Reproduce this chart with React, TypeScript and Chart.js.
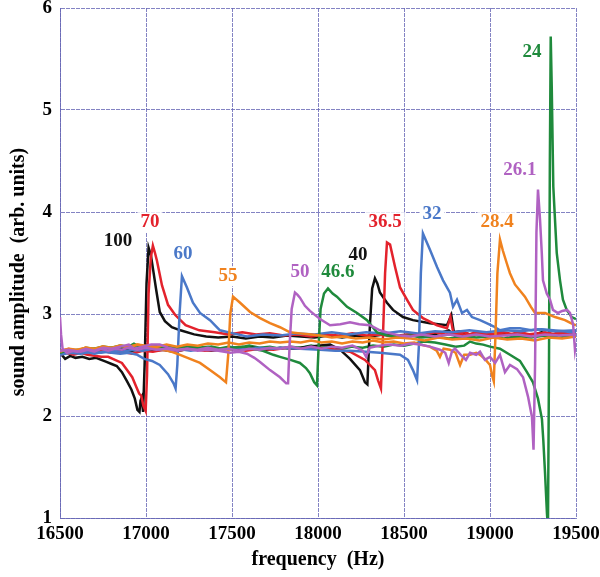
import React, { useEffect, useRef } from 'react';
import { Chart, registerables } from 'chart.js';

Chart.register(...registerables);

// ---- Data: [frequency (Hz), amplitude (arb. units)] ----
const b100: [number, number][] = [
  [16500, 2.62], [16530, 2.56], [16560, 2.59], [16590, 2.57], [16630, 2.58], [16670, 2.56], [16710, 2.57], [16740, 2.55],
  [16770, 2.53], [16800, 2.51], [16830, 2.49], [16860, 2.43], [16890, 2.34], [16915, 2.26], [16935, 2.17], [16950, 2.06],
  [16962, 2.04], [16968, 2.15], [16975, 2.18], [16983, 2.04], [16992, 2.5], [17003, 3.3], [17015, 3.65], [17028, 3.58],
  [17040, 3.45], [17058, 3.25], [17080, 3.02], [17110, 2.93], [17150, 2.87], [17200, 2.84], [17280, 2.80], [17350, 2.78],
  [17420, 2.77], [17500, 2.78], [17580, 2.76], [17660, 2.78], [17740, 2.77], [17820, 2.79], [17900, 2.78], [17980, 2.77],
  [18060, 2.79], [18140, 2.77], [18220, 2.79], [18300, 2.78], [18380, 2.80], [18460, 2.79], [18540, 2.80], [18620, 2.78],
  [18700, 2.81], [18760, 2.84], [18800, 2.78], [18850, 2.81], [18900, 2.79], [18960, 2.82], [19020, 2.79], [19080, 2.81],
  [19140, 2.78], [19200, 2.80], [19260, 2.79], [19320, 2.81], [19380, 2.80], [19440, 2.82], [19500, 2.80],
];

const b40: [number, number][] = [
  [16500, 2.64], [16560, 2.62], [16620, 2.64], [16680, 2.63], [16740, 2.65], [16800, 2.63], [16860, 2.65], [16920, 2.64],
  [16980, 2.66], [17040, 2.64], [17100, 2.65], [17160, 2.63], [17220, 2.65], [17300, 2.66], [17380, 2.64], [17460, 2.66],
  [17540, 2.65], [17620, 2.67], [17700, 2.65], [17780, 2.67], [17860, 2.66], [17940, 2.68], [18000, 2.69], [18070, 2.70],
  [18128, 2.65], [18186, 2.56], [18244, 2.45], [18273, 2.33], [18287, 2.31], [18302, 2.9], [18315, 3.25], [18331, 3.35],
  [18345, 3.30], [18360, 3.21], [18401, 3.11], [18436, 3.04], [18494, 2.97], [18552, 2.94], [18651, 2.91], [18750, 2.89],
  [18775, 2.99], [18790, 2.82], [18830, 2.83], [18880, 2.80], [18940, 2.82], [19000, 2.79], [19060, 2.82], [19120, 2.80],
  [19180, 2.81], [19240, 2.79], [19300, 2.82], [19360, 2.80], [19420, 2.81], [19470, 2.83], [19500, 2.81],
];

const r70: [number, number][] = [
  [16500, 2.60], [16540, 2.62], [16580, 2.60], [16620, 2.62], [16660, 2.60], [16700, 2.59], [16740, 2.58], [16780, 2.58],
  [16820, 2.55], [16860, 2.52], [16890, 2.45], [16920, 2.38], [16945, 2.28], [16960, 2.22], [16972, 2.20], [16985, 2.10],
  [16998, 2.05], [17006, 2.4], [17015, 3.2], [17028, 3.55], [17040, 3.67], [17052, 3.60], [17064, 3.52], [17093, 3.28],
  [17128, 3.09], [17170, 2.99], [17230, 2.89], [17310, 2.84], [17400, 2.82], [17480, 2.80], [17560, 2.82], [17640, 2.80],
  [17720, 2.81], [17800, 2.79], [17880, 2.80], [17960, 2.78], [18040, 2.80], [18120, 2.79], [18200, 2.81], [18280, 2.79],
  [18360, 2.80], [18440, 2.78], [18520, 2.80], [18600, 2.79], [18680, 2.82], [18740, 2.80], [18800, 2.81], [18860, 2.79],
  [18920, 2.82], [18980, 2.80], [19040, 2.81], [19100, 2.79], [19160, 2.82], [19220, 2.80], [19280, 2.81], [19340, 2.79],
  [19400, 2.82], [19460, 2.80], [19500, 2.81],
];

const r365: [number, number][] = [
  [16500, 2.63], [16560, 2.61], [16620, 2.63], [16680, 2.62], [16740, 2.64], [16800, 2.62], [16860, 2.63], [16920, 2.61],
  [16980, 2.64], [17040, 2.63], [17100, 2.65], [17180, 2.64], [17260, 2.66], [17340, 2.64], [17420, 2.65], [17500, 2.66],
  [17580, 2.64], [17660, 2.66], [17740, 2.65], [17820, 2.67], [17900, 2.66], [17980, 2.67], [18070, 2.66], [18186, 2.63],
  [18273, 2.55], [18331, 2.45], [18349, 2.35], [18366, 2.27], [18378, 2.8], [18390, 3.4], [18401, 3.70], [18419, 3.68],
  [18448, 3.46], [18477, 3.26], [18517, 3.14], [18552, 3.04], [18610, 2.96], [18692, 2.89], [18750, 2.86], [18770, 2.97],
  [18785, 2.83], [18800, 2.80], [18850, 2.82], [18900, 2.79], [18960, 2.81], [19020, 2.80], [19080, 2.82], [19140, 2.80],
  [19200, 2.81], [19260, 2.79], [19320, 2.82], [19380, 2.80], [19440, 2.81], [19500, 2.82],
];

const bl60: [number, number][] = [
  [16500, 2.62], [16550, 2.64], [16600, 2.62], [16650, 2.63], [16700, 2.61], [16750, 2.63], [16800, 2.62], [16850, 2.61],
  [16900, 2.62], [16950, 2.60], [16990, 2.56], [17035, 2.54], [17080, 2.50], [17128, 2.41], [17160, 2.32], [17172, 2.27],
  [17182, 2.5], [17195, 3.0], [17209, 3.37], [17238, 3.26], [17273, 3.11], [17314, 3.01], [17372, 2.94], [17430, 2.84],
  [17506, 2.81], [17587, 2.78], [17680, 2.80], [17780, 2.79], [17880, 2.81], [17980, 2.80], [18080, 2.82], [18180, 2.80],
  [18280, 2.82], [18380, 2.81], [18480, 2.83], [18580, 2.81], [18680, 2.83], [18780, 2.82], [18880, 2.84], [18980, 2.82],
  [19080, 2.84], [19180, 2.83], [19280, 2.85], [19380, 2.83], [19500, 2.84],
];

const bl32: [number, number][] = [
  [16500, 2.60], [16560, 2.62], [16620, 2.61], [16680, 2.63], [16740, 2.62], [16800, 2.64], [16860, 2.63], [16920, 2.65],
  [16980, 2.64], [17040, 2.66], [17100, 2.65], [17180, 2.66], [17260, 2.64], [17340, 2.66], [17420, 2.65], [17500, 2.67],
  [17580, 2.66], [17660, 2.67], [17740, 2.66], [17779, 2.67], [17895, 2.66], [18012, 2.65], [18100, 2.64], [18186, 2.64],
  [18280, 2.63], [18360, 2.62], [18477, 2.60], [18523, 2.55], [18552, 2.45], [18576, 2.35], [18587, 2.7], [18598, 3.4],
  [18610, 3.79], [18651, 3.63], [18692, 3.46], [18727, 3.33], [18767, 3.21], [18785, 3.07], [18808, 3.14], [18837, 3.01],
  [18866, 3.04], [18895, 2.97], [18942, 2.94], [18980, 2.91], [19020, 2.88], [19058, 2.84], [19116, 2.86], [19174, 2.86],
  [19240, 2.84], [19300, 2.85], [19366, 2.84], [19430, 2.83], [19483, 2.82], [19500, 2.83],
];

const o55: [number, number][] = [
  [16500, 2.63], [16550, 2.66], [16600, 2.64], [16650, 2.67], [16700, 2.65], [16750, 2.68], [16800, 2.66], [16850, 2.69],
  [16900, 2.67], [16950, 2.70], [17000, 2.68], [17050, 2.67], [17100, 2.65], [17150, 2.63], [17198, 2.60], [17256, 2.56],
  [17314, 2.52], [17372, 2.45], [17430, 2.38], [17465, 2.33], [17478, 2.6], [17490, 3.0], [17506, 3.17], [17547, 3.11],
  [17605, 3.02], [17663, 2.96], [17721, 2.91], [17779, 2.87], [17837, 2.82], [17895, 2.81], [17960, 2.80], [18012, 2.79],
  [18080, 2.77], [18150, 2.78], [18220, 2.76], [18300, 2.77], [18380, 2.75], [18460, 2.77], [18540, 2.76], [18620, 2.74],
  [18700, 2.77], [18780, 2.75], [18860, 2.76], [18940, 2.74], [19020, 2.77], [19100, 2.75], [19180, 2.76], [19260, 2.74],
  [19340, 2.77], [19420, 2.76], [19500, 2.78],
];

const o284: [number, number][] = [
  [16500, 2.64], [16550, 2.66], [16600, 2.65], [16650, 2.67], [16700, 2.66], [16750, 2.68], [16800, 2.67], [16850, 2.69],
  [16900, 2.68], [16950, 2.70], [17000, 2.69], [17060, 2.68], [17120, 2.70], [17180, 2.68], [17240, 2.70], [17300, 2.69],
  [17360, 2.71], [17420, 2.70], [17480, 2.72], [17540, 2.70], [17600, 2.72], [17660, 2.71], [17720, 2.73], [17780, 2.72],
  [17840, 2.73], [17900, 2.72], [17960, 2.74], [18020, 2.72], [18080, 2.73], [18140, 2.71], [18200, 2.73], [18260, 2.72],
  [18320, 2.74], [18380, 2.72], [18440, 2.73], [18500, 2.71], [18560, 2.72], [18593, 2.70], [18650, 2.68], [18690, 2.64],
  [18709, 2.58], [18730, 2.66], [18767, 2.65], [18800, 2.62], [18826, 2.50], [18850, 2.60], [18884, 2.60], [18920, 2.62],
  [18942, 2.60], [18970, 2.56], [19000, 2.50], [19012, 2.40], [19022, 2.34], [19032, 2.8], [19043, 3.4], [19058, 3.73],
  [19075, 3.62], [19097, 3.50], [19116, 3.40], [19145, 3.29], [19203, 3.17], [19238, 3.07], [19262, 3.01], [19320, 3.01],
  [19378, 2.97], [19436, 2.94], [19470, 2.91], [19500, 2.89],
];

const p50: [number, number][] = [
  [16500, 2.64], [16550, 2.65], [16600, 2.63], [16650, 2.66], [16700, 2.64], [16750, 2.67], [16800, 2.66], [16850, 2.68],
  [16900, 2.70], [16930, 2.66], [16980, 2.68], [17030, 2.70], [17080, 2.70], [17130, 2.67], [17180, 2.65], [17240, 2.66],
  [17300, 2.64], [17360, 2.65], [17420, 2.64], [17490, 2.62], [17540, 2.63], [17587, 2.61], [17630, 2.57], [17663, 2.53],
  [17721, 2.45], [17779, 2.38], [17815, 2.32], [17826, 2.32], [17835, 2.7], [17847, 3.05], [17866, 3.21], [17880, 3.19],
  [17895, 3.16], [17924, 3.08], [17953, 3.03], [18012, 2.95], [18070, 2.89], [18130, 2.90], [18186, 2.92], [18240, 2.90],
  [18302, 2.89], [18360, 2.84], [18420, 2.81], [18477, 2.79], [18540, 2.78], [18600, 2.80], [18680, 2.78], [18760, 2.80],
  [18840, 2.78], [18920, 2.80], [19000, 2.78], [19080, 2.79], [19160, 2.80], [19240, 2.78], [19320, 2.80], [19400, 2.79],
  [19500, 2.80],
];

const p261: [number, number][] = [
  [16500, 2.97], [16506, 2.80], [16515, 2.66], [16540, 2.62], [16580, 2.64], [16620, 2.63], [16660, 2.65], [16700, 2.63],
  [16740, 2.66], [16780, 2.64], [16820, 2.66], [16860, 2.65], [16900, 2.67], [16950, 2.65], [17000, 2.67], [17060, 2.65],
  [17120, 2.66], [17180, 2.64], [17240, 2.66], [17300, 2.65], [17360, 2.67], [17420, 2.65], [17480, 2.66], [17540, 2.64],
  [17600, 2.66], [17660, 2.65], [17720, 2.67], [17780, 2.66], [17840, 2.68], [17900, 2.66], [17960, 2.68], [18020, 2.66],
  [18080, 2.68], [18140, 2.67], [18200, 2.69], [18260, 2.64], [18280, 2.58], [18300, 2.67], [18360, 2.69], [18420, 2.70],
  [18480, 2.69], [18540, 2.71], [18593, 2.70], [18650, 2.68], [18709, 2.65], [18740, 2.62], [18760, 2.52], [18780, 2.64],
  [18797, 2.66], [18830, 2.60], [18860, 2.55], [18884, 2.62], [18920, 2.60], [18942, 2.63], [18970, 2.55], [19000, 2.58],
  [19030, 2.52], [19058, 2.60], [19087, 2.43], [19116, 2.50], [19157, 2.46], [19192, 2.38], [19221, 2.19], [19244, 1.99],
  [19253, 1.67], [19262, 2.5], [19270, 3.8], [19279, 4.22], [19291, 3.92], [19301, 3.60], [19308, 3.33], [19330, 3.20],
  [19349, 3.14], [19366, 3.04], [19395, 3.01], [19420, 3.03], [19448, 3.04], [19465, 3.01], [19483, 2.90], [19494, 2.65],
  [19500, 2.72],
];

const g466: [number, number][] = [
  [16500, 2.62], [16550, 2.65], [16600, 2.64], [16650, 2.67], [16700, 2.66], [16750, 2.68], [16800, 2.67], [16850, 2.69],
  [16900, 2.68], [16930, 2.71], [16960, 2.68], [17000, 2.67], [17050, 2.69], [17100, 2.67], [17150, 2.68], [17200, 2.66],
  [17260, 2.68], [17320, 2.66], [17380, 2.68], [17440, 2.66], [17500, 2.67], [17560, 2.68], [17620, 2.66], [17680, 2.64],
  [17740, 2.60], [17779, 2.58], [17840, 2.55], [17895, 2.52], [17930, 2.47], [17953, 2.42], [17978, 2.33], [17994, 2.30],
  [18004, 2.7], [18015, 3.05], [18035, 3.20], [18058, 3.25], [18085, 3.20], [18110, 3.17], [18169, 3.07], [18227, 3.01],
  [18285, 2.94], [18343, 2.82], [18401, 2.79], [18460, 2.78], [18540, 2.79], [18600, 2.77], [18680, 2.78], [18760, 2.76],
  [18840, 2.78], [18920, 2.77], [19000, 2.78], [19080, 2.76], [19160, 2.78], [19240, 2.77], [19320, 2.79], [19400, 2.77],
  [19500, 2.78],
];

const g24: [number, number][] = [
  [16500, 2.60], [16550, 2.63], [16600, 2.65], [16650, 2.64], [16700, 2.66], [16750, 2.65], [16800, 2.67], [16850, 2.66],
  [16900, 2.69], [16950, 2.67], [17000, 2.68], [17060, 2.66], [17120, 2.68], [17180, 2.67], [17240, 2.69], [17300, 2.67],
  [17360, 2.68], [17420, 2.66], [17480, 2.68], [17540, 2.67], [17600, 2.69], [17660, 2.67], [17720, 2.68], [17780, 2.66],
  [17840, 2.68], [17900, 2.67], [17960, 2.69], [18020, 2.67], [18080, 2.68], [18140, 2.66], [18200, 2.68], [18260, 2.67],
  [18320, 2.69], [18380, 2.68], [18440, 2.70], [18500, 2.69], [18560, 2.71], [18620, 2.73], [18680, 2.72], [18740, 2.70],
  [18800, 2.68], [18850, 2.69], [18884, 2.73], [18920, 2.71], [18960, 2.70], [19000, 2.68], [19058, 2.66], [19116, 2.60],
  [19174, 2.54], [19215, 2.43], [19250, 2.33], [19279, 2.17], [19302, 1.97], [19310, 1.76], [19320, 1.44], [19331, 1.05],
  [19337, 0.9], [19343, 2.5], [19348, 4.5], [19353, 5.72], [19359, 5.22], [19368, 4.25], [19378, 3.92], [19388, 3.60],
  [19407, 3.33], [19424, 3.14], [19446, 3.04], [19475, 2.97], [19500, 2.95],
];

// Curve labels (text, frequency, amplitude)
const labelTexts = ['100', '70', '60', '55', '50', '46.6', '40', '36.5', '32', '28.4', '26.1', '24'];
const labelFreqs = [16837, 17023, 17215, 17477, 17895, 18116, 18233, 18390, 18663, 19041, 19174, 19244];
const labelAmps = [3.71, 3.90, 3.59, 3.37, 3.41, 3.41, 3.58, 3.90, 3.98, 3.90, 4.41, 5.57];

const xTicks = [16500, 17000, 17500, 18000, 18500, 19000, 19500];
const yTicks = [1, 2, 3, 4, 5, 6];

const BLACK = '#111111';
const RED = '#e3222c';
const BLUE = '#4a78c8';
const ORANGE = '#f0821e';
const PURPLE = '#b062c2';
const GREEN = '#1f8a3c';

const labelColors = [BLACK, RED, BLUE, ORANGE, PURPLE, GREEN, BLACK, RED, BLUE, ORANGE, PURPLE, GREEN];

const seriesList = [
  { data: p50, color: PURPLE },
  { data: p261, color: PURPLE },
  { data: o55, color: ORANGE },
  { data: o284, color: ORANGE },
  { data: g466, color: GREEN },
  { data: bl60, color: BLUE },
  { data: bl32, color: BLUE },
  { data: r365, color: RED },
  { data: r70, color: RED },
  { data: b40, color: BLACK },
  { data: b100, color: BLACK },
  { data: g24, color: GREEN },
];

const GRID = 'rgba(100, 100, 180, 0.8)';
const FONT = '"Liberation Serif", "Times New Roman", serif';

const labelPlugin = {
  id: 'curveLabels',
  beforeDatasetsDraw(chart: any) {
    const { ctx, scales } = chart;
    const xs = scales.x;
    const ys = scales.y;
    ctx.save();
    ctx.font = `bold 19px ${FONT}`;
    ctx.textAlign = 'center';
    ctx.textBaseline = 'middle';
    labelTexts.forEach((t, i) => {
      const px = xs.getPixelForValue(labelFreqs[i]);
      const py = ys.getPixelForValue(labelAmps[i]);
      const w = ctx.measureText(t).width;
      ctx.fillStyle = '#ffffff';
      ctx.fillRect(px - w / 2 - 3, py - 10, w + 6, 20);
      ctx.fillStyle = labelColors[i];
      ctx.fillText(t, px, py);
    });
    ctx.restore();
  },
};

const titlePlugin = {
  id: 'axisTitles',
  afterDraw(chart: any) {
    const { ctx, chartArea } = chart;
    ctx.save();
    ctx.fillStyle = '#000';
    ctx.font = `bold 20px ${FONT}`;
    ctx.textAlign = 'center';
    ctx.textBaseline = 'middle';
    ctx.fillText('frequency  (Hz)', (chartArea.left + chartArea.right) / 2, 560);
    ctx.translate(19, 272);
    ctx.rotate(-Math.PI / 2);
    ctx.fillText('sound amplitude  (arb. units)', 0, 0);
    ctx.restore();
  },
};

export default function App() {
  const canvasRef = useRef<HTMLCanvasElement | null>(null);

  useEffect(() => {
    const canvas = canvasRef.current;
    if (!canvas) return;
    const chart = new Chart(canvas, {
      type: 'line',
      data: {
        datasets: seriesList.map((s) => ({
          data: s.data as any,
          borderColor: s.color,
          backgroundColor: s.color,
          borderWidth: 2.5,
          pointRadius: 0,
          tension: 0,
          fill: false,
        })),
      },
      options: {
        responsive: false,
        animation: false,
        devicePixelRatio: 1,
        layout: { padding: { left: 0, right: 24, top: 8, bottom: 0 } },
        plugins: { legend: { display: false }, tooltip: { enabled: false } },
        scales: {
          x: {
            type: 'linear',
            min: xTicks[0],
            max: xTicks[xTicks.length - 1],
            afterBuildTicks: (scale: any) => {
              scale.ticks = xTicks.map((v) => ({ value: v }));
            },
            ticks: {
              color: '#000',
              font: { family: FONT, size: 19, weight: 'bold' },
              padding: 5,
              maxRotation: 0,
              autoSkip: false,
              callback: (v: any) => String(v),
            },
            grid: { color: GRID, lineWidth: 1, drawTicks: false },
            border: { color: GRID, width: 1, dash: [4, 1] },
            afterFit: (scale: any) => {
              scale.height = 59;
              scale.paddingLeft = 0;
              scale.paddingRight = 0;
            },
          },
          y: {
            type: 'linear',
            min: yTicks[0],
            max: yTicks[yTicks.length - 1],
            afterBuildTicks: (scale: any) => {
              scale.ticks = yTicks.map((v) => ({ value: v }));
            },
            ticks: {
              color: '#000',
              font: { family: FONT, size: 19, weight: 'bold' },
              padding: 8,
              autoSkip: false,
              callback: (v: any) => String(v),
            },
            grid: { color: GRID, lineWidth: 1, drawTicks: false },
            border: { color: GRID, width: 1, dash: [4, 1] },
            afterFit: (scale: any) => {
              scale.width = 60;
              scale.paddingTop = 0;
              scale.paddingBottom = 0;
            },
          },
        },
      } as any,
      plugins: [labelPlugin, titlePlugin],
    });
    return () => chart.destroy();
  }, []);

  return (
    <div style={{ position: 'absolute', left: 0, top: 0, width: 600, height: 577, background: '#fff' }}>
      <canvas ref={canvasRef} width={600} height={577} style={{ width: 600, height: 577, display: 'block' }} />
    </div>
  );
}
